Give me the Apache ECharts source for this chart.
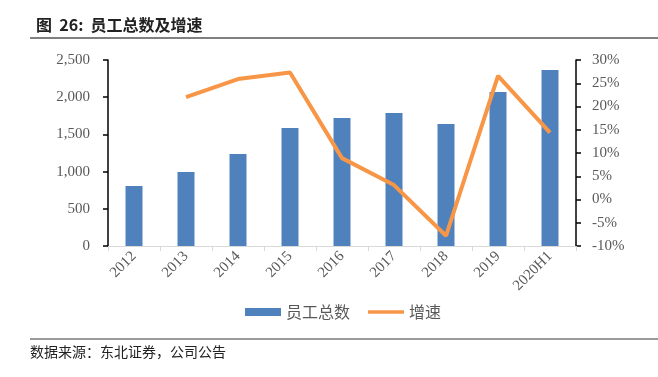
<!DOCTYPE html>
<html>
<head>
<meta charset="utf-8">
<script src="https://cdn.jsdelivr.net/npm/echarts@6/dist/echarts.min.js"></script>
<style>
  html, body { margin: 0; padding: 0; background: #fff; }
  #main { width: 658px; height: 377px; }
</style>
</head>
<body>
<div id="main"></div>
<script>
// 数据
const categories = ['2012', '2013', '2014', '2015', '2016', '2017', '2018', '2019', '2020H1'];
const staffTotal = [806, 995, 1237, 1586, 1720, 1788, 1640, 2070, 2366];
const growthRate = [null, 22.0, 25.9, 27.3, 8.9, 3.1, -7.8, 26.6, 14.4];
const leftTicks = [0, 500, 1000, 1500, 2000, 2500];
const rightTicks = [-10, -5, 0, 5, 10, 15, 20, 25, 30];

const serif = '"Liberation Serif", "Times New Roman", serif';
const cjk = '"Noto Sans CJK SC", sans-serif';

let chart = echarts.init(document.getElementById('main'));
let option = {
    animation: false,
    title: {
        text: '图  26:  员工总数及增速',
        left: 31,
        top: 12,
        textStyle: { fontFamily: cjk, fontSize: 16, fontWeight: 'bold', color: '#222' }
    },
    graphic: [
        { type: 'line', shape: { x1: 30, y1: 38, x2: 658, y2: 38 }, style: { stroke: '#808080', lineWidth: 2 } },
        { type: 'line', shape: { x1: 30, y1: 339, x2: 658, y2: 339 }, style: { stroke: '#9a9a9a', lineWidth: 2 } },
        { type: 'text', left: 30, top: 345, style: { text: '数据来源：东北证券，公司公告', font: '14px "Noto Sans CJK SC"', fill: '#222' } }
    ],
    legend: {
        top: 299,
        left: 240,
        itemGap: 18,
        textStyle: { fontFamily: cjk, fontSize: 16, color: '#595959' },
        data: [
            { name: '员工总数', icon: 'rect', itemStyle: { color: '#4F81BD' } },
            { name: '增速', icon: 'path://M0,0 L40,0 L40,4 L0,4 Z', itemStyle: { color: '#F79646' } }
        ],
        itemWidth: 36,
        itemHeight: 8
    },
    grid: { left: 108, right: 82, top: 60, bottom: 131, containLabel: false },
    xAxis: {
        type: 'category',
        data: categories,
        boundaryGap: true,
        axisLine: { lineStyle: { color: '#d9d9d9', width: 1 } },
        axisTick: { show: true, length: 5, lineStyle: { color: '#d9d9d9' } },
        axisLabel: { rotate: 45, margin: 8, fontFamily: serif, fontSize: 15, color: '#595959', interval: 0 }
    },
    yAxis: [
        {
            type: 'value',
            min: leftTicks[0],
            max: leftTicks[leftTicks.length - 1],
            interval: 500,
            axisLine: { show: true, lineStyle: { color: '#000', width: 1.5 } },
            axisTick: { show: true, length: 5, lineStyle: { color: '#000', width: 1.5 } },
            splitLine: { show: false },
            axisLabel: {
                margin: 18,
                fontFamily: serif, fontSize: 15, color: '#595959',
                formatter: v => v.toLocaleString('en-US')
            }
        },
        {
            type: 'value',
            min: rightTicks[0],
            max: rightTicks[rightTicks.length - 1],
            interval: 5,
            axisLine: { show: true, lineStyle: { color: '#000', width: 1.5 } },
            axisTick: { show: true, length: 5, lineStyle: { color: '#000', width: 1.5 } },
            splitLine: { show: false },
            axisLabel: { margin: 16, fontFamily: serif, fontSize: 15, color: '#595959', formatter: '{value}%' }
        }
    ],
    series: [
        {
            name: '员工总数',
            type: 'bar',
            data: staffTotal,
            barWidth: 17,
            itemStyle: { color: '#4F81BD' }
        },
        {
            name: '增速',
            type: 'line',
            yAxisIndex: 1,
            data: growthRate,
            symbol: 'none',
            showSymbol: false,
            lineStyle: { color: '#F79646', width: 4 },
            itemStyle: { color: '#F79646' }
        }
    ]
};
chart.setOption(option);
</script>
</body>
</html>
